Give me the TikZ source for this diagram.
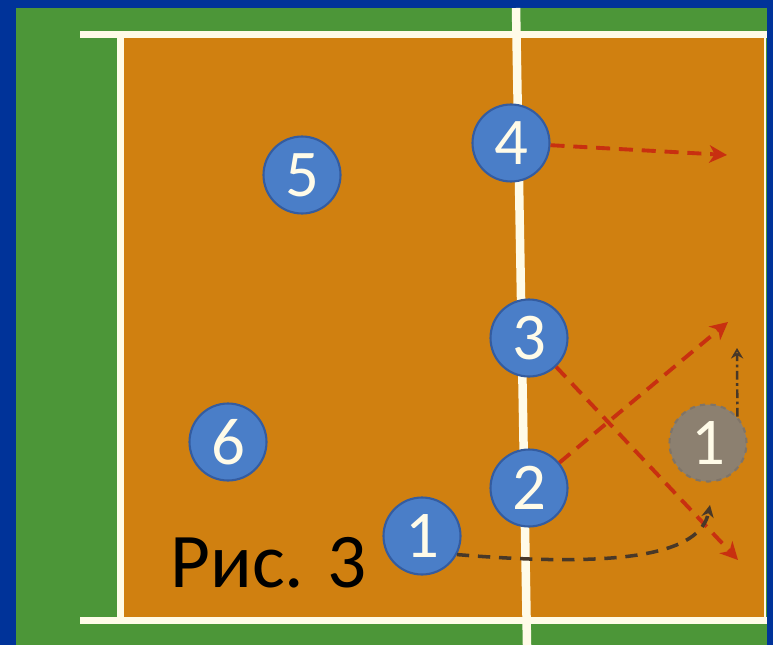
\documentclass[tikz,border=0pt]{standalone}
\usepackage{fontspec}
\setmainfont{Carlito}
\usetikzlibrary{arrows.meta}
\definecolor{bgblue}{RGB}{0,51,153}
\definecolor{fieldgreen}{RGB}{76,150,56}
\definecolor{courtorange}{RGB}{208,128,16}
\definecolor{lineivory}{RGB}{255,251,232}
\definecolor{playerblue}{RGB}{74,126,200}
\definecolor{playerrim}{RGB}{52,92,160}
\definecolor{subgray}{RGB}{140,128,112}
\definecolor{passred}{RGB}{200,48,16}
\definecolor{rundark}{RGB}{72,56,40}

\begin{document}
\begin{tikzpicture}[x=0.02cm, y=-0.02cm,
  player/.style={circle, fill=playerblue, draw=playerrim, line width=1.2pt, minimum size=1.54cm,
                 inner sep=0pt, text=lineivory, font=\fontsize{38}{38}\selectfont},
  pass/.style={passred, line width=2.2pt, dash pattern=on 8pt off 5pt, -{Stealth[length=10pt,width=10pt,inset=3pt]}},
  run/.style={rundark, line width=2pt, dash pattern=on 7pt off 5pt, -{Stealth[length=7pt,width=7pt]}}]
% Frame and field
\fill[bgblue] (0,0) rectangle (773,645);
\fill[fieldgreen] (16,8) rectangle (767,645);
\fill[courtorange] (120,35) rectangle (765,620);
% Court lines
\draw[lineivory, line width=0.14cm] (80,35) -- (767,35);
\draw[lineivory, line width=0.14cm] (80,620) -- (767,620);
\draw[lineivory, line width=0.14cm] (120,35) -- (120,620);
\draw[lineivory, line width=0.8pt] (765,35) -- (765,620);
% Net
\draw[lineivory, line width=0.17cm] (516,8) -- (527,645);
% Players
\foreach \n/\x/\y in {4/511/143, 5/302/175, 3/529/338, 6/228/442, 2/529/488, 1/422/536} {
  \node[player] (p\n) at (\x,\y) {\n};
}
\node[player, fill=subgray, draw=rundark!70, dashed] (sub) at (708,443) {1};
% Caption
\node[font=\fontsize{44}{44}\selectfont, anchor=base west, inner sep=0pt] (cap) at (170,587) {Рис.\hspace{0.3em}3};
% Moves
\coordinate (t4) at (727,155);
\coordinate (t3) at (738,560);
\coordinate (t2) at (728,322);
\coordinate (t1) at (710,505);
\coordinate (ts) at (737,348);
\draw[pass] (p4) -- (t4);
\draw[pass] (p3) -- (t3);
\draw[pass] (p2) -- (t2);
\draw[run] (p1.-28) .. controls (620,568) and (700,555) .. (t1);
\draw[run, line width=1.4pt, dash pattern=on 5pt off 2pt on 1.5pt off 2pt, -{Stealth[open,length=6pt,width=7pt]}] (sub.42) -- (ts);
\end{tikzpicture}
\end{document}
